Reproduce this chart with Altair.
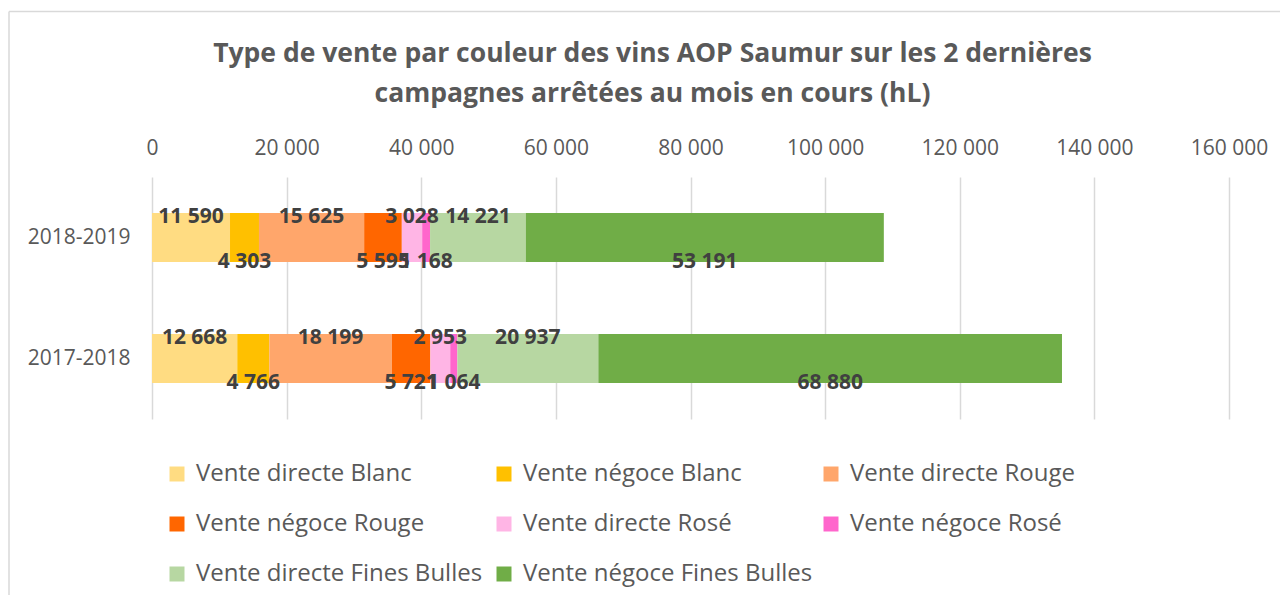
import altair as alt
import pandas as pd

campagnes = ["2018-2019", "2017-2018"]
types_vente = [
    "Vente directe Blanc", "Vente négoce Blanc",
    "Vente directe Rouge", "Vente négoce Rouge",
    "Vente directe Rosé", "Vente négoce Rosé",
    "Vente directe Fines Bulles", "Vente négoce Fines Bulles",
]
valeurs_2018_2019 = [11590, 4303, 15625, 5595, 3028, 1168, 14221, 53191]
valeurs_2017_2018 = [12668, 4766, 18199, 5721, 2953, 1064, 20937, 68880]
couleurs = ["#FFDC82", "#FFC000", "#FFA66B", "#FF6600",
            "#FFB5E5", "#FF66CC", "#B7D7A2", "#70AD47"]
x_ticks = [0, 20000, 40000, 60000, 80000, 100000, 120000, 140000, 160000]

rows = []
for camp, vals in zip(campagnes, [valeurs_2018_2019, valeurs_2017_2018]):
    for i, (t, v) in enumerate(zip(types_vente, vals)):
        rows.append({"campagne": camp, "type": t, "valeur": v, "ordre": i})
df = pd.DataFrame(rows)

FONT = "Open Sans"
GREY = "#595959"

y_enc = alt.Y("campagne:N", sort=campagnes, title=None,
              scale=alt.Scale(paddingInner=0.595, paddingOuter=0.2975),
              axis=alt.Axis(domain=False, ticks=False, labelFontSize=21,
                            labelColor=GREY, labelFont=FONT, labelPadding=22))

base = alt.Chart(df).transform_window(
    cum="sum(valeur)", sort=[alt.SortField("ordre")], groupby=["campagne"]
).transform_calculate(
    mid="datum.cum - datum.valeur / 2",
    lab="replace(format(datum.valeur, ','), ',', ' ')",
    directe="indexof(datum.type, 'directe') >= 0",
)

bars = alt.Chart(df).mark_bar().encode(
    x=alt.X("valeur:Q", stack="zero", title=None,
            scale=alt.Scale(domain=[0, 160000], nice=False),
            axis=alt.Axis(orient="top", values=x_ticks, domain=False, ticks=False,
                          grid=True, gridColor="#D9D9D9", gridWidth=1.5,
                          labelFontSize=21, labelColor=GREY, labelFont=FONT,
                          labelPadding=19, labelFlush=False,
                          labelExpr="replace(format(datum.value, ','), ',', ' ')")),
    y=y_enc,
    order=alt.Order("ordre:Q"),
    color=alt.Color("type:N", scale=alt.Scale(domain=types_vente, range=couleurs),
                    legend=alt.Legend(title=None, orient="none", legendX=13, legendY=285,
                                      direction="horizontal",
                                      columns=3, gridAlign="all", symbolType="square",
                                      symbolSize=225, symbolStrokeWidth=0,
                                      labelFontSize=24, labelColor=GREY, labelFont=FONT,
                                      labelOffset=7, columnPadding=6, rowPadding=26,
                                      padding=0, labelLimit=400)),
)

txt_top = base.transform_filter("datum.directe").mark_text(
    fontSize=21, fontWeight="bold", color="#404040", font=FONT, dy=-21
).encode(x="mid:Q", y=alt.Y("campagne:N", sort=campagnes), text="lab:N")

txt_bot = base.transform_filter("!datum.directe").mark_text(
    fontSize=21, fontWeight="bold", color="#404040", font=FONT, dy=24
).encode(x="mid:Q", y=alt.Y("campagne:N", sort=campagnes), text="lab:N")

frame_df = pd.DataFrame({"a": [0]})
frame_top = alt.Chart(frame_df).mark_rule(color="#D9D9D9", strokeWidth=1.5).encode(
    x=alt.value(-143), x2=alt.value(1140), y=alt.value(-165.5))
frame_left = alt.Chart(frame_df).mark_rule(color="#D9D9D9", strokeWidth=1.5).encode(
    x=alt.value(-143), y=alt.value(-165.5), y2=alt.value(430))

chart = alt.layer(frame_top, frame_left, bars, txt_top, txt_bot).properties(
    width=1077, height=242,
    padding={"left": 144, "top": 169, "right": 51, "bottom": 176},
    autosize=alt.AutoSizeParams(type="none"),
    title=alt.TitleParams(
        text=["Type de vente par couleur des vins AOP Saumur sur les 2 dernières",
              "campagnes arrêtées au mois en cours (hL)"],
        fontSize=26.5, fontWeight="bold", color=GREY, font=FONT,
        lineHeight=40, anchor="middle", dx=-38, offset=-97),
).configure_view(stroke=None)

chart.save("out.html", embed_options={"renderer": "svg", "actions": False})
